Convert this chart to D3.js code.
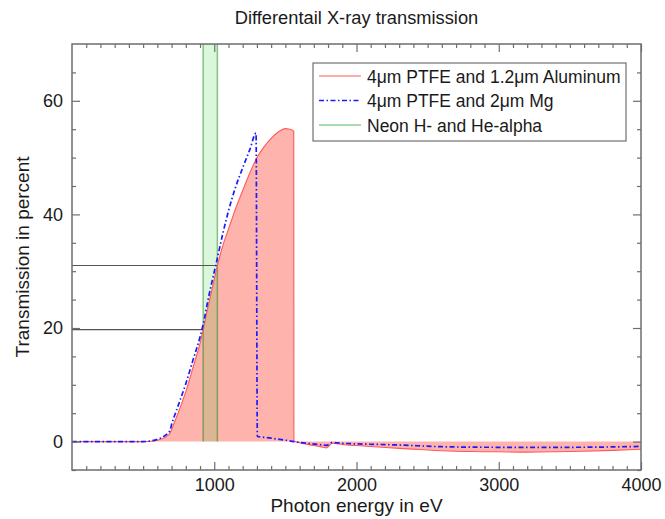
<!DOCTYPE html>
<html>
<head>
<meta charset="utf-8">
<script src="https://cdn.jsdelivr.net/npm/d3@7/dist/d3.min.js"></script>
<style>
  html, body { margin: 0; padding: 0; background: #fff; }
  svg { display: block; font-family: "Liberation Sans", Arial, Helvetica, sans-serif; }
</style>
</head>
<body>
<svg id="chart" width="665" height="519"></svg>
<script>
// ---------- data ----------
const title = "Differentail X-ray transmission";
const xLabel = "Photon energy in eV";
const yLabel = "Transmission in percent";

const seriesNames = ["4\u03bcm PTFE and 1.2\u03bcm Aluminum", "4\u03bcm PTFE and 2\u03bcm Mg", "Neon H- and He-alpha"];

// Aluminum filter (red, filled)
const alEnergy = [0, 500, 550, 600, 650, 690, 700, 720, 750, 800, 850, 900, 922, 950, 1000, 1022, 1060, 1100, 1150, 1200, 1250, 1300, 1350, 1400, 1450, 1500, 1530, 1550, 1559, 1560, 1600, 1700, 1767, 1790, 1830, 1900, 2000, 2150, 2300, 2450, 2600, 2800, 3000, 3200, 3400, 3600, 3800, 4000];
const alValue  = [0, 0, 0.05, 0.25, 0.7, 1.5, 2.1, 3.4, 5.3, 8.8, 13.0, 17.3, 19.7, 23.0, 28.6, 31.0, 34.5, 37.4, 41.0, 44.2, 47.3, 50.0, 51.9, 53.4, 54.5, 55.1, 55.0, 54.8, 54.6, 0.1, -0.2, -0.7, -1.0, -1.1, -0.3, -0.5, -0.7, -0.95, -1.2, -1.4, -1.6, -1.75, -1.8, -1.85, -1.8, -1.7, -1.55, -1.35];

// Magnesium filter (blue, dash-dot)
const mgEnergy = [0, 500, 550, 600, 650, 690, 700, 720, 750, 800, 850, 900, 922, 960, 1000, 1022, 1060, 1100, 1150, 1200, 1250, 1294, 1303, 1350, 1400, 1500, 1560, 1650, 1767, 1790, 1830, 1900, 2000, 2300, 2600, 3000, 3500, 4000];
const mgValue  = [0, 0, 0.1, 0.4, 1.0, 2.0, 3.0, 4.5, 6.6, 10.2, 14.3, 18.4, 20.6, 25.4, 29.9, 32.3, 36.6, 40.6, 44.8, 48.2, 51.4, 54.3, 0.9, 0.75, 0.6, 0.25, 0.0, -0.3, -0.6, -0.65, -0.15, -0.3, -0.4, -0.6, -0.9, -1.0, -1.0, -0.85];

// Neon line band (He-alpha, H-alpha energies) and transmission marks
const neonLines = [922, 1022];
const neonTransmission = [19.7, 31.0];

const xMajorTicks = [1000, 2000, 3000, 4000];
const yMajorTicks = [0, 20, 40, 60];

// ---------- layout ----------
const W = 665, H = 519;
const m = { left: 72, right: 24, top: 44, bottom: 49 };
const svg = d3.select("#chart");

const x = d3.scaleLinear().domain([0, 4000]).range([m.left, W - m.right]);
const y = d3.scaleLinear().domain([-5, 70]).range([H - m.bottom, m.top]);

const plot = svg.append("g");
const clipId = "plotclip";
svg.append("defs").append("clipPath").attr("id", clipId)
  .append("rect").attr("x", x(0)).attr("y", y(70)).attr("width", x(4000) - x(0)).attr("height", y(-5) - y(70));
plot.attr("clip-path", `url(#${clipId})`);

const alData = alEnergy.map((e, i) => [e, alValue[i]]);
const mgData = mgEnergy.map((e, i) => [e, mgValue[i]]);

// red filled area
const area = d3.area().x(d => x(d[0])).y0(y(0)).y1(d => y(d[1])).curve(d3.curveMonotoneX);
plot.append("path").datum(alData).attr("d", area)
  .attr("fill", "#ffb3ad").attr("stroke", "none");

// neon band
plot.append("rect")
  .attr("x", x(neonLines[0])).attr("width", x(neonLines[1]) - x(neonLines[0]))
  .attr("y", y(70)).attr("height", y(0) - y(70))
  .attr("fill", "rgb(0,200,0)").attr("fill-opacity", 0.14);
neonLines.forEach(e => {
  plot.append("line")
    .attr("x1", x(e)).attr("x2", x(e)).attr("y1", y(0)).attr("y2", y(70))
    .attr("stroke", "rgb(0,128,0)").attr("stroke-opacity", 0.45).attr("stroke-width", 1.5);
});

// horizontal transmission marks
neonLines.forEach((e, i) => {
  plot.append("line")
    .attr("x1", x(0)).attr("x2", x(e)).attr("y1", y(neonTransmission[i])).attr("y2", y(neonTransmission[i]))
    .attr("stroke", "#555").attr("stroke-width", 1.2);
});

// red line
const line = d3.line().x(d => x(d[0])).y(d => y(d[1])).curve(d3.curveMonotoneX);
plot.append("path").datum(alData).attr("d", line)
  .attr("fill", "none").attr("stroke", "#ff5a5a").attr("stroke-width", 1.1);

// blue dash-dot line
plot.append("path").datum(mgData).attr("d", line)
  .attr("fill", "none").attr("stroke", "#1a1aff").attr("stroke-width", 1.7)
  .attr("stroke-dasharray", "5,2.5,1.5,2.5");

// ---------- axes ----------
const axisColor = "#6e6e6e";
const xMinor = d3.range(100, 4000, 100).filter(v => v % 1000 !== 0);
const yMinor = d3.range(-5, 70, 5).filter(v => v % 20 !== 0);

function styleAxis(g) {
  g.select(".domain").remove();
  g.selectAll(".tick line").attr("stroke", axisColor).attr("stroke-width", 1.2);
  g.selectAll(".tick text").attr("fill", "#1a1a1a").attr("font-size", 18)
    .attr("font-family", "Liberation Sans, Arial, Helvetica, sans-serif");
}

// bottom
svg.append("g").attr("transform", `translate(0,${y(-5)})`)
  .call(d3.axisBottom(x).tickValues(xMajorTicks).tickSize(-8).tickPadding(8).tickFormat(d3.format("d")))
  .call(styleAxis);
svg.append("g").attr("transform", `translate(0,${y(-5)})`)
  .call(d3.axisBottom(x).tickValues(xMinor).tickSize(-4).tickFormat(""))
  .call(styleAxis);
// top
svg.append("g").attr("transform", `translate(0,${y(70)})`)
  .call(d3.axisTop(x).tickValues(xMajorTicks).tickSize(-8).tickFormat(""))
  .call(styleAxis);
svg.append("g").attr("transform", `translate(0,${y(70)})`)
  .call(d3.axisTop(x).tickValues(xMinor).tickSize(-4).tickFormat(""))
  .call(styleAxis);
// left
svg.append("g").attr("transform", `translate(${x(0)},0)`)
  .call(d3.axisLeft(y).tickValues(yMajorTicks).tickSize(-8).tickPadding(9).tickFormat(d3.format("d")))
  .call(styleAxis);
svg.append("g").attr("transform", `translate(${x(0)},0)`)
  .call(d3.axisLeft(y).tickValues(yMinor).tickSize(-4).tickFormat(""))
  .call(styleAxis);
// right
svg.append("g").attr("transform", `translate(${x(4000)},0)`)
  .call(d3.axisRight(y).tickValues(yMajorTicks).tickSize(-8).tickFormat(""))
  .call(styleAxis);
svg.append("g").attr("transform", `translate(${x(4000)},0)`)
  .call(d3.axisRight(y).tickValues(yMinor).tickSize(-4).tickFormat(""))
  .call(styleAxis);

// frame
svg.append("rect")
  .attr("x", x(0)).attr("y", y(70)).attr("width", x(4000) - x(0)).attr("height", y(-5) - y(70))
  .attr("fill", "none").attr("stroke", axisColor).attr("stroke-width", 1.5);

// ---------- text ----------
svg.append("text").attr("x", (x(0) + x(4000)) / 2).attr("y", 24)
  .attr("text-anchor", "middle").attr("font-size", 18.3).attr("fill", "#1a1a1a").text(title);
svg.append("text").attr("x", (x(0) + x(4000)) / 2).attr("y", 512)
  .attr("text-anchor", "middle").attr("font-size", 19).attr("fill", "#1a1a1a").text(xLabel);
svg.append("text").attr("transform", `translate(29,${(y(70) + y(-5)) / 2}) rotate(-90)`)
  .attr("text-anchor", "middle").attr("font-size", 19).attr("fill", "#1a1a1a").text(yLabel);

// ---------- legend ----------
const lg = svg.append("g").attr("transform", "translate(313,63)");
lg.append("rect").attr("x", 0).attr("y", 0).attr("width", 313).attr("height", 78)
  .attr("fill", "#fff").attr("stroke", "#555").attr("stroke-width", 1);
const legendStyles = [
  { stroke: "#ff5a5a", width: 1.1, dash: null },
  { stroke: "#1a1aff", width: 1.7, dash: "5,2.5,1.5,2.5" },
  { stroke: "#8fcf8f", width: 1.5, dash: null }
];
seriesNames.forEach((name, i) => {
  const yy = 13 + i * 24.5;
  const l = lg.append("line").attr("x1", 6).attr("x2", 48).attr("y1", yy).attr("y2", yy)
    .attr("stroke", legendStyles[i].stroke).attr("stroke-width", legendStyles[i].width);
  if (legendStyles[i].dash) l.attr("stroke-dasharray", legendStyles[i].dash);
  lg.append("text").attr("x", 54).attr("y", yy + 6.5).attr("font-size", 17.5)
    .attr("fill", "#1a1a1a").text(name);
});
</script>
</body>
</html>
